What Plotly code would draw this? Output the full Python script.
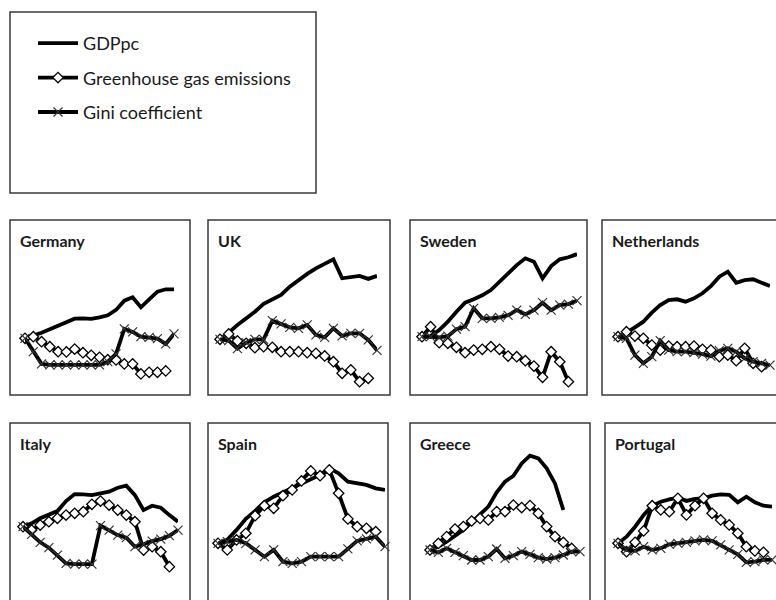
import plotly.graph_objects as go

# ---------------- data (index, first year = 100) ----------------
years = list(range(1995, 2014))  # 19 categories

series_names = ["GDPpc", "Greenhouse gas emissions", "Gini coefficient"]
countries = ["Germany", "UK", "Sweden", "Netherlands", "Italy", "Spain", "Greece", "Portugal"]

germany_gdp = [100, 101.2, 102.8, 104.5, 106.3, 108.3, 109.8, 110, 109.7, 110.5, 111.5, 114.2, 118.8, 120.5, 115.5, 119.5, 123.3, 124.5, 124.5]
germany_ghg = [100, 100.8, 98.3, 95.8, 93.3, 93.2, 94.6, 92.8, 91.5, 90.5, 89.3, 89.2, 87.2, 87.2, 82.2, 83, 83, 83.7]
germany_gini = [100, 93.3, 87.2, 86.7, 86.7, 86.7, 86.7, 86.7, 86.7, 86.7, 88.3, 92.2, 104.7, 103.2, 100.8, 100.5, 99.8, 97.2, 102.2]

uk_gdp = [100, 103.3, 107.2, 110.5, 113.8, 117.7, 119.7, 122.2, 126.3, 129.7, 132.7, 135.5, 138, 140, 130.5, 131.2, 131.7, 130.2, 131.7]
uk_ghg = [100, 102.7, 99.2, 98, 95.8, 96.3, 96, 93.8, 93.8, 93.8, 93.3, 93, 91.7, 88.8, 83, 84.7, 78.8, 80.5]
uk_gini = [100, 99.3, 95.3, 98.3, 100, 100, 109.3, 107.7, 106, 105.5, 107.2, 102.2, 101, 105.5, 101.7, 103, 103, 99.7, 94.5]

sweden_gdp = [100, 100.3, 103.3, 107.5, 112.5, 117, 118.7, 120.7, 123.3, 127.5, 131.3, 135.8, 139.2, 137.5, 129.2, 135.3, 138.7, 139.7, 141.3]
sweden_ghg = [100, 105, 97, 96.7, 94.7, 92, 93.3, 93.7, 95, 93.7, 90.3, 90, 88, 85.3, 79.7, 92.5, 87.5, 77.5]
sweden_gini = [100, 100, 99.7, 100.3, 103.8, 105, 114.2, 109.2, 109.2, 109.7, 110.7, 113.3, 111.2, 113.3, 117, 113.3, 115.8, 116.3, 118]

netherlands_gdp = [100, 102, 104.7, 107.5, 112, 115.8, 118.3, 118.7, 117.5, 119.2, 121.7, 125.3, 130, 132.5, 127, 128.3, 128.7, 127, 125.3]
netherlands_ghg = [100, 102.5, 100.3, 99.2, 95.8, 93.3, 95.3, 95, 95, 95.3, 93.7, 93.3, 90, 90.8, 88, 94.2, 86.7, 85]
netherlands_gini = [100, 99.2, 90.8, 86.7, 90, 98, 93.3, 92.5, 92.5, 92, 91.3, 90.3, 93, 94.2, 92.5, 89.2, 87.5, 86.7, 85.8]

italy_gdp = [100, 101.7, 104.2, 106.2, 107.8, 112.8, 116.3, 116.2, 115.8, 116.7, 117.5, 119.5, 120.5, 115.8, 108.3, 110.5, 109.5, 105.8, 102.5]
italy_ghg = [100, 98.3, 100.8, 102.5, 104.2, 105.8, 106.7, 107.5, 111.2, 112.8, 110.8, 108.3, 105.8, 102.5, 88.3, 90, 87.5, 80]
italy_gini = [100, 96.2, 92.2, 89.5, 85.8, 81.7, 81.3, 81.3, 81.3, 100.5, 98.3, 95.8, 94.5, 90, 91.2, 92.8, 93.8, 95.5, 98.3]

spain_gdp = [100, 101.7, 106.7, 112.2, 116.2, 120.5, 123.3, 125.5, 127.5, 130, 132.2, 134.2, 137.5, 135, 130.8, 130, 129.2, 127.5, 126.7]
spain_ghg = [100, 96.7, 101.7, 105, 113.8, 118.8, 117.5, 123.8, 126.7, 131.2, 136.2, 133.8, 136.7, 125, 112.2, 108.3, 107.5, 105.8]
spain_gini = [100, 100.8, 101.7, 100, 96.7, 93.3, 96.7, 90.8, 90, 90.8, 93.3, 93.3, 93.3, 93.3, 97.2, 101.2, 102.2, 103.3, 98.3]

greece_gdp = [100, 101.7, 104.2, 107.2, 110, 113.8, 117.5, 121.7, 128.8, 134.2, 137, 143.3, 147.2, 145.8, 140.8, 133.3, 120]
greece_ghg = [100, 103.3, 106.7, 110.5, 111.7, 114.5, 115.8, 115, 119.2, 119.2, 122.5, 121.2, 122.2, 118.3, 111.7, 106.7, 103.8, 100.8]
greece_gini = [100, 98.8, 100.8, 98.8, 97.2, 95, 95, 96.7, 100.5, 95.8, 97.2, 99.2, 97.8, 96.2, 95.5, 96.2, 97.5, 99.2, 99.2]

portugal_gdp = [100, 103.3, 108.3, 114.2, 118.8, 120.8, 122, 122.8, 121.2, 122.2, 122.5, 123.8, 124.5, 124.2, 120.5, 123.3, 120.5, 118.8, 118.3]
portugal_ghg = [100, 95.8, 100.5, 106.2, 118.8, 116.7, 115.8, 122.5, 114.2, 118.8, 122.5, 115, 111.7, 109.2, 105, 98.3, 96.2, 95.5]
portugal_gini = [100, 96.7, 96.2, 98.3, 96.7, 97.5, 99.5, 100, 100.5, 101.2, 101.7, 101.2, 99.2, 96.7, 94.5, 90.5, 90.8, 91.7, 91.7]

country_data = {
    "Germany": (germany_gdp, germany_ghg, germany_gini),
    "UK": (uk_gdp, uk_ghg, uk_gini),
    "Sweden": (sweden_gdp, sweden_ghg, sweden_gini),
    "Netherlands": (netherlands_gdp, netherlands_ghg, netherlands_gini),
    "Italy": (italy_gdp, italy_ghg, italy_gini),
    "Spain": (spain_gdp, spain_ghg, spain_gini),
    "Greece": (greece_gdp, greece_ghg, greece_gini),
    "Portugal": (portugal_gdp, portugal_ghg, portugal_gini),
}

# ---------------- layout geometry (screen pixels) ----------------
W, H = 776, 600

def fx(px):   # px -> paper x
    return px / W

def fy(px):   # px -> paper y
    return 1 - px / H

# panel frame: left, top, right, bottom
panel_box = {
    "Germany": (10, 220, 190, 395),
    "UK": (208, 220, 390, 395),
    "Sweden": (410, 220, 587, 395),
    "Netherlands": (602, 220, 800, 395),
    "Italy": (10, 423, 190, 620),
    "Spain": (208, 423, 388, 620),
    "Greece": (410, 423, 590, 620),
    "Portugal": (605, 423, 800, 620),
}
plot_x = {
    "Germany": (25, 174), "UK": (220, 377), "Sweden": (422, 577), "Netherlands": (618, 770),
    "Italy": (23, 178), "Spain": (218, 385), "Greece": (430, 580), "Portugal": (618, 772),
}
base_px = {
    "Germany": 338.3, "UK": 339.3, "Sweden": 336.7, "Netherlands": 336.7,
    "Italy": 526.7, "Spain": 543.3, "Greece": 550, "Portugal": 543.3,
}
UNITS_PER_PX = 0.5
FONT = "Lato"
FRAME = "#3a3a3a"

fig = go.Figure()
shapes = []
annotations = []

for k, c in enumerate(countries):
    n = k + 1
    xa = "x" if n == 1 else f"x{n}"
    ya = "y" if n == 1 else f"y{n}"
    gdp, ghg, gini = country_data[c]

    common = dict(xaxis=xa, yaxis=ya, cliponaxis=False, hoverinfo="x+y+name")
    fig.add_trace(go.Scatter(
        x=years[:len(gdp)], y=gdp, name=series_names[0], mode="lines",
        line=dict(color="black", width=3.8), legendgroup="gdp",
        showlegend=(k == 0), **common))
    fig.add_trace(go.Scatter(
        x=years[:len(ghg)], y=ghg, name=series_names[1], mode="lines+markers",
        line=dict(color="black", width=3.8),
        marker=dict(symbol="diamond", size=8, color="white",
                    line=dict(color="black", width=1.3)),
        legendgroup="ghg", showlegend=(k == 0), **common))
    fig.add_trace(go.Scatter(
        x=years[:len(gini)], y=gini, name=series_names[2], mode="lines+markers",
        line=dict(color="black", width=3.8),
        marker=dict(symbol="x-thin", size=9, color="#333",
                    line=dict(color="#333", width=1.2)),
        legendgroup="gini", showlegend=(k == 0), **common))

    l, t, r, b = panel_box[c]
    x0, x1 = plot_x[c]
    row_top = t + 2
    row_bot = min(b - 2, H)
    base = base_px[c]
    y_lo = 100 - (row_bot - base) * UNITS_PER_PX
    y_hi = 100 + (base - row_top) * UNITS_PER_PX

    axis_common = dict(visible=False, showgrid=False, zeroline=False, fixedrange=True)
    fig.update_layout(**{
        ("xaxis" if n == 1 else f"xaxis{n}"): dict(
            domain=[fx(x0), fx(x1)], range=[years[0], years[-1]], anchor=ya, **axis_common),
        ("yaxis" if n == 1 else f"yaxis{n}"): dict(
            domain=[fy(row_bot), fy(row_top)], range=[y_lo, y_hi], anchor=xa, **axis_common),
    })

    shapes.append(dict(type="rect", xref="paper", yref="paper",
                       x0=fx(l), x1=fx(r), y0=fy(b), y1=fy(t),
                       line=dict(color=FRAME, width=1.5), fillcolor="rgba(0,0,0,0)", layer="below"))
    annotations.append(dict(text=f"<b>{c}</b>", xref="paper", yref="paper",
                            x=fx(l + 8), y=fy(t + 20), xanchor="left", yanchor="middle",
                            showarrow=False, font=dict(family=FONT, size=16, color="#1a1a1a")))

# legend frame
shapes.append(dict(type="rect", xref="paper", yref="paper",
                   x0=fx(10), x1=fx(316), y0=fy(193), y1=fy(12),
                   line=dict(color=FRAME, width=1.5), fillcolor="rgba(0,0,0,0)", layer="below"))

fig.update_layout(
    width=W, height=H,
    margin=dict(l=0, r=0, t=0, b=0),
    paper_bgcolor="white", plot_bgcolor="rgba(0,0,0,0)",
    shapes=shapes, annotations=annotations,
    showlegend=True,
    legend=dict(x=fx(33), y=fy(25), xanchor="left", yanchor="top",
                bgcolor="rgba(0,0,0,0)", borderwidth=0,
                font=dict(family=FONT, size=18, color="#1a1a1a"),
                tracegroupgap=8, itemwidth=40, traceorder="grouped"),
)

# remove the default 8px page margin so the figure fills the 776x600 window
fig.write_html(
    "out.html",
    config={"displayModeBar": False},
    post_script="document.body.style.margin='0';document.body.style.overflow='hidden';",
)
